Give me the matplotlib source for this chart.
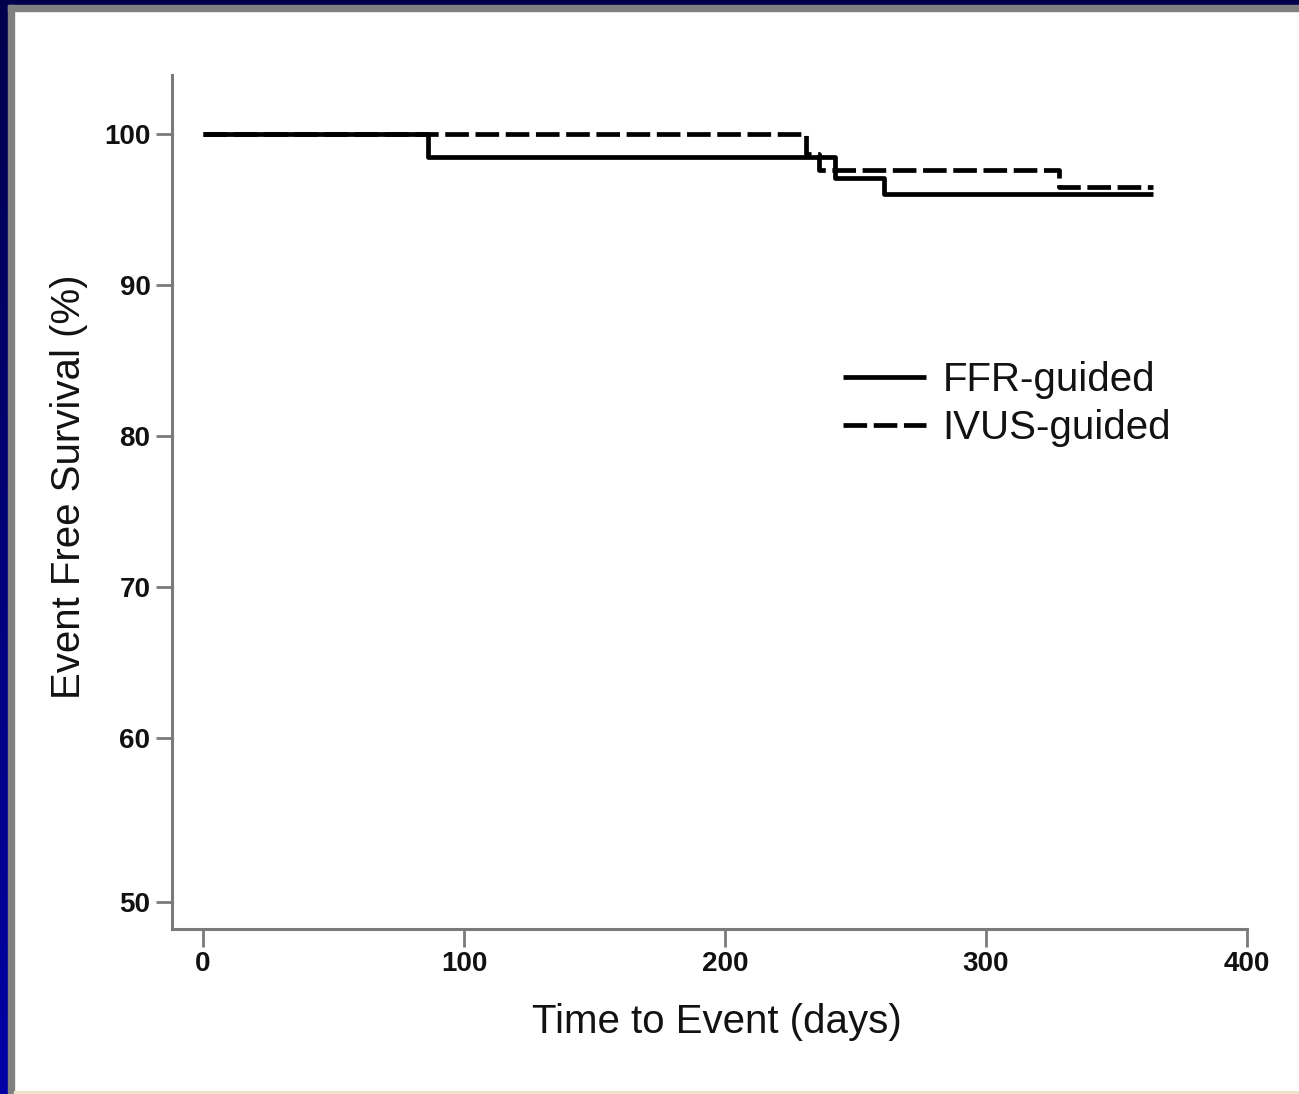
import numpy as np
import matplotlib
matplotlib.use("Agg")
import matplotlib.pyplot as plt
from matplotlib import font_manager

# ---- data ----
ffr_days = [0, 86, 242, 261, 364]
ffr_surv = [100.0, 98.5, 97.1, 96.0, 96.0]
ivus_days = [0, 231, 236, 328, 364]
ivus_surv = [100.0, 98.7, 97.6, 96.5, 96.5]
series_labels = ["FFR-guided", "IVUS-guided"]
x_ticks = [0, 100, 200, 300, 400]
y_ticks = [50, 60, 70, 80, 90, 100]
x_label = "Time to Event (days)"
y_label = "Event Free Survival (%)"

W, H = 1299, 1094
fig = plt.figure(figsize=(W / 100, H / 100), dpi=100, facecolor="white")

# ---- slide frame ----
grad = fig.add_axes([0, 0, 8 / W, 1])
grad.imshow(np.linspace(0, 1, 256).reshape(-1, 1), aspect="auto",
            cmap=matplotlib.colors.LinearSegmentedColormap.from_list("n", ["#00004c", "#0000a6"]),
            extent=[0, 1, 0, 1], origin="upper")
grad.set_axis_off()
fig.patches.append(plt.Rectangle((8 / W, 1 - 5 / H), 1, 5 / H, transform=fig.transFigure,
                                 color="#00004c", zorder=0))
fig.patches.append(plt.Rectangle((8 / W, 0), 6 / W, 1 - 5 / H, transform=fig.transFigure,
                                 color="#808080", zorder=0))
fig.patches.append(plt.Rectangle((8 / W, 1 - 11 / H), 1, 6 / H, transform=fig.transFigure,
                                 color="#808080", zorder=0))
fig.patches.append(plt.Rectangle((14 / W, 0), 1, 3 / H, transform=fig.transFigure,
                                 color="#efe3cc", zorder=0))

# ---- main axes ----
left, right, top, bottom = 172, 1247, 75, 929
ax = fig.add_axes([left / W, 1 - bottom / H, (right - left) / W, (bottom - top) / H])

k = 16.37 / 15.1
def fwd(y):
    y = np.asarray(y, dtype=float)
    return np.where(y >= 60, y, 60 - (60 - y) * k)
def inv(y):
    y = np.asarray(y, dtype=float)
    return np.where(y >= 60, y, 60 - (60 - y) / k)
ax.set_yscale("function", functions=(fwd, inv))

ax.step(ffr_days, ffr_surv, where="post", color="black", lw=3.4, label=series_labels[0],
        solid_capstyle="butt")
ax.step(ivus_days, ivus_surv, where="post", color="black", lw=3.4, label=series_labels[1],
        dashes=(5.0, 1.4))

ax.set_xlim(-11.9, 400)
ax.set_ylim(48.33, 103.9)
ax.set_xticks(x_ticks)
ax.set_yticks(y_ticks)

for s in ["top", "right"]:
    ax.spines[s].set_visible(False)
for s in ["left", "bottom"]:
    ax.spines[s].set_color("#7a7a7a")
    ax.spines[s].set_linewidth(2.2)

ax.tick_params(axis="both", direction="out", color="#7a7a7a", width=2.0)
ax.tick_params(axis="y", length=11.5, pad=4)
ax.tick_params(axis="x", length=13, pad=3)

installed = {f.name for f in font_manager.fontManager.ttflist}
tick_family = [f for f in ["Liberation Sans Narrow", "DejaVu Sans Condensed"] if f in installed]
tick_family = tick_family[:1] + ["Liberation Sans"]
tick_size = 21 if len(tick_family) > 1 and tick_family[0] != "Liberation Sans" else 20
tick_fp = font_manager.FontProperties(family=tick_family, weight="bold", size=tick_size)
for lab in ax.get_xticklabels() + ax.get_yticklabels():
    lab.set_fontproperties(tick_fp)
    lab.set_color("#111111")

lab_font = dict(family=["Liberation Sans"], size=29, color="#121212")
ax.set_xlabel(x_label, **lab_font)
ax.set_ylabel(y_label, **lab_font)
ax.xaxis.set_label_coords((717 - left) / (right - left), (bottom - 1003) / (bottom - top))
ax.yaxis.set_label_coords((88 - left) / (right - left), (bottom - 487) / (bottom - top))

leg = ax.legend(loc="upper left", bbox_to_anchor=(843 / W, 1 - 361 / H),
                bbox_transform=fig.transFigure, frameon=False,
                prop=dict(family="Liberation Sans", size=29),
                handlelength=2.05, handletextpad=0.42, labelspacing=0.26,
                borderpad=0, borderaxespad=0)
for t in leg.get_texts():
    t.set_color("#121212")

fig.savefig("out.png", dpi=100, facecolor="white")
